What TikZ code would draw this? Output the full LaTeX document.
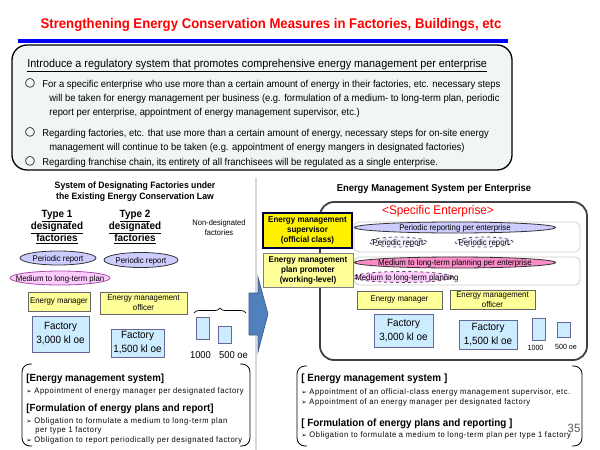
\documentclass[tikz,border=0pt]{standalone}
\usepackage{fontspec}
\setmainfont{Liberation Sans}[FakeStretch=0.94]
\newfontfamily\symfont{DejaVu Sans}
\newfontfamily\notefont{Liberation Sans}[FakeStretch=0.94, LetterSpace=7]
\usetikzlibrary{shapes.geometric, positioning, decorations.pathreplacing}

\definecolor{titlered}{RGB}{255,0,0}
\definecolor{lineblue}{RGB}{0,0,255}
\definecolor{boxfill}{RGB}{240,246,246}
\definecolor{lavender}{RGB}{204,204,255}
\definecolor{pinkfill}{RGB}{255,204,255}
\definecolor{hotpink}{RGB}{250,140,200}
\definecolor{paleyellow}{RGB}{255,255,153}
\definecolor{skyfill}{RGB}{204,236,255}
\definecolor{arrowblue}{RGB}{79,129,189}

\newcommand{\fs}[2]{\fontsize{#1}{#2}\selectfont}
\newcommand{\bul}{{\symfont\fs{6.5}{6.5}\char"27A2}\ }
\newcommand{\pl}[1]{\makebox[0pt]{\raisebox{-3pt}[0pt][0pt]{#1}}}

\begin{document}
\begin{tikzpicture}[x=1pt, y=-1pt, line width=0.8pt,
    txt/.style={inner sep=0pt, align=left, anchor=base west},
    mtxt/.style={inner sep=0pt, align=left, anchor=north west},
    note/.style={txt, font=\notefont\fs{8}{9.5}},
    ring/.style={inner sep=0pt, font=\symfont\fs{12}{12}},
    pill/.style={ellipse, draw=black!80, inner sep=0pt, font=\fs{8.3}{9}},
    dashpill/.style={pill, dashed, draw=black!70},
    ybox/.style={rectangle, draw=black!60, fill=paleyellow, inner sep=0pt, align=center, font=\fs{8.3}{10}},
    factory/.style={rectangle, draw=gray!80!blue, fill=skyfill, inner sep=0pt, align=center, font=\fs{10.5}{14}},
    minibox/.style={rectangle, draw=gray!80!blue, fill=skyfill, inner sep=0pt, minimum width=13}]
\useasboundingbox (0,0) rectangle (600,450);

% Title and top box
\node (title) [font=\bfseries\fs{14}{16}, text=titlered] at (271,25) {Strengthening Energy Conservation Measures in Factories, Buildings, etc};
\draw [lineblue, line width=3.5pt] (18,41) -- (508,41);
\draw [fill=boxfill, line width=1.3pt, rounded corners=15] (12,45) rectangle (512,170);

\node (intro) [txt, font=\fs{11.5}{14}] at (27,67) {\underline{Introduce a regulatory system that promotes comprehensive energy management per enterprise}};
\node (b1) [ring] at (30,83) {○};
\node (p1) [mtxt, font=\fs{10}{14}] at (42,79.5) {For a specific enterprise who use more than a certain amount of energy in their factories, etc. necessary steps\\
  \hspace*{7pt}will be taken for energy management per business (e.g. formulation of a medium- to long-term plan, periodic\\
  \hspace*{7pt}report per enterprise, appointment of energy management supervisor, etc.)};
\node (b2) [ring] at (30,132) {○};
\node (p2) [mtxt, font=\fs{10}{14}] at (42,128.5) {Regarding factories, etc. that use more than a certain amount of energy, necessary steps for on-site energy\\
  \hspace*{7pt}management will continue to be taken (e.g. appointment of energy mangers in designated factories)};
\node (b3) [ring] at (30,161) {○};
\node (p3) [txt, font=\fs{10}{14}] at (42,165) {Regarding franchise chain, its entirety of all franchisees will be regulated as a single enterprise.};

% Separator
\draw [gray!30, line width=1.5pt] (256,178) -- (256,450);

% Left panel: existing law
\node (lawhead) [align=center, font=\bfseries\fs{9.2}{11}] at (135,192) {System of Designating Factories under\\the Existing Energy Conservation Law};
\node (type1) [align=center, font=\bfseries\fs{10.5}{12}] at (57,227) {\underline{Type 1}\\\underline{designated}\\\underline{factories}};
\node (type2) [align=center, font=\bfseries\fs{10.5}{12}] at (135,227) {\underline{Type 2}\\\underline{designated}\\\underline{factories}};
\node (nondes) [align=center, font=\fs{8}{10}] at (219,228) {Non-designated\\factories};

\node (lrep1) [pill, fill=lavender, minimum width=76, minimum height=14] at (58,258) {\pl{Periodic report}};
\node (lrep2) [pill, fill=lavender, minimum width=74, minimum height=15] at (141,260) {\pl{Periodic report}};
\node (lplan) [pill, fill=pinkfill, draw=violet!70, minimum width=100, minimum height=14] at (60,278) {\pl{Medium to long-term plan}};

\node (lmgr) [ybox, minimum width=62, minimum height=19] at (59,301.5) {Energy manager};
\node (loff) [ybox, minimum width=87, minimum height=22] at (143.5,303) {Energy management\\officer};
\node (lfac1) [factory, minimum width=57, minimum height=36] at (60.5,334) {Factory\\3,000 kl oe};
\node (lfac2) [factory, minimum width=53, minimum height=28] at (137.5,343) {Factory\\1,500 kl oe};

\node (lsm1) [minibox, minimum height=22] at (202.5,328) {};
\node (lsm2) [minibox, minimum height=17] at (224.5,334.5) {};
\node (l1000) [font=\fs{10}{10}, inner sep=0pt] at (200.5,355) {1000};
\node (l500) [font=\fs{10}{10}, inner sep=0pt] at (233.5,355) {500 oe};
\draw [decorate, decoration={brace, amplitude=5pt}, line width=0.7pt] (194,313) -- (246,313);

\draw [rounded corners=8] (32,364) -- (22,364) -- (22,446) -- (32,446);
\draw [rounded corners=8] (240,364) -- (250,364) -- (250,446) -- (240,446);
\node (lsys) [txt, font=\bfseries\fs{10.3}{11}] at (26,381) {[Energy management system]};
\node (lsys1) [note] at (26,393) {\bul Appointment of energy manager per designated factory};
\node (lplanh) [txt, font=\bfseries\fs{10.3}{11}] at (26,411) {[Formulation of energy plans and report]};
\node (lplan1) [note, anchor=north west] at (26,417) {\bul Obligation to formulate a medium to long-term plan\\\hspace*{9pt}per type 1 factory};
\node (lplan2) [note] at (26,442) {\bul Obligation to report periodically per designated factory};

% Right panel: per enterprise
\node (enthead) [font=\bfseries\fs{10}{11}] at (434,189) {Energy Management System per Enterprise};
\draw [draw=black!75, line width=1.8pt, rounded corners=14] (320,202) rectangle (587,360);
\node (specent) [font=\fs{12.5}{13}, text=titlered] at (438,211) {<Specific Enterprise>};

\draw [gray!40, rounded corners=5] (354,222) rectangle (580,252);
\draw [gray!40, rounded corners=5] (354,257) rectangle (580,285);

\node (rsup) [ybox, fill=yellow, draw=black!75!blue, line width=1.5pt, font=\bfseries\fs{8.5}{10}, minimum width=89, minimum height=35] at (307.5,230.5) {Energy management\\supervisor\\(official class)};
\node (rpro) [ybox, draw=gray, font=\bfseries\fs{8.5}{10}, minimum width=90, minimum height=34] at (308,270) {Energy management\\plan promoter\\(working-level)};

\node (rrep) [pill, fill=lavender, minimum width=201, minimum height=11] at (455,227.5) {\pl{Periodic reporting per enterprise}};
\node (rrep1) [dashpill, fill=lavender!25, minimum width=57, minimum height=10] at (398,242) {\pl{Periodic report}};
\node (rrep2) [dashpill, fill=lavender!25, minimum width=58, minimum height=10] at (484,242) {\pl{Periodic report}};
\node (rplan) [pill, fill=hotpink, minimum width=201, minimum height=11] at (455,262.5) {\pl{Medium to long-term planning per enterprise}};
\node (rplan1) [dashpill, fill=pinkfill, minimum width=99, minimum height=11] at (403,277) {\pl{\hspace*{8pt}Medium to long-term planning}};

\node (rmgr) [ybox, minimum width=85, minimum height=18] at (399.5,300) {Energy manager};
\node (roff) [ybox, minimum width=85, minimum height=19] at (492.5,299.5) {Energy management\\officer};
\node (rfac1) [factory, minimum width=59, minimum height=33] at (403.5,330.5) {Factory\\3,000 kl oe};
\node (rfac2) [factory, minimum width=58, minimum height=29] at (488,334.5) {Factory\\1,500 kl oe};
\node (rsm1) [minibox, minimum height=22] at (538.5,329) {};
\node (rsm2) [minibox, minimum height=15] at (563.5,329.5) {};
\node (r1000) [font=\fs{7.5}{8}, inner sep=0pt] at (535.5,348) {1000};
\node (r500) [font=\fs{7.5}{8}, inner sep=0pt] at (566,347) {500 oe};

\draw [rounded corners=8] (307,366) -- (297,366) -- (297,446) -- (307,446);
\draw [rounded corners=8] (572,366) -- (582,366) -- (582,446) -- (572,446);
\node (rsys) [txt, font=\bfseries\fs{10.5}{11}] at (301,381) {[ Energy management system ]};
\node (rsys1) [note] at (301,394) {\bul Appointment of an official-class energy management supervisor, etc.};
\node (rsys2) [note] at (301,404) {\bul Appointment of an energy manager per designated factory};
\node (rplanh) [txt, font=\bfseries\fs{10.5}{11}] at (301,426) {[ Formulation of energy plans and reporting ]};
\node (rplan2) [note] at (301,437) {\bul Obligation to formulate a medium to long-term plan per type 1 factory};
\node (pagenum) [font=\fs{12}{14}, text=gray!70!black] at (574,428) {35};

% Big arrow between the panels
\fill [arrowblue, draw=arrowblue!70!black, line width=0.6pt] (249,293) -- (258,293) -- (258,277) -- (268,314) -- (258,352) -- (258,335) -- (249,335) -- cycle;
\end{tikzpicture}
\end{document}
